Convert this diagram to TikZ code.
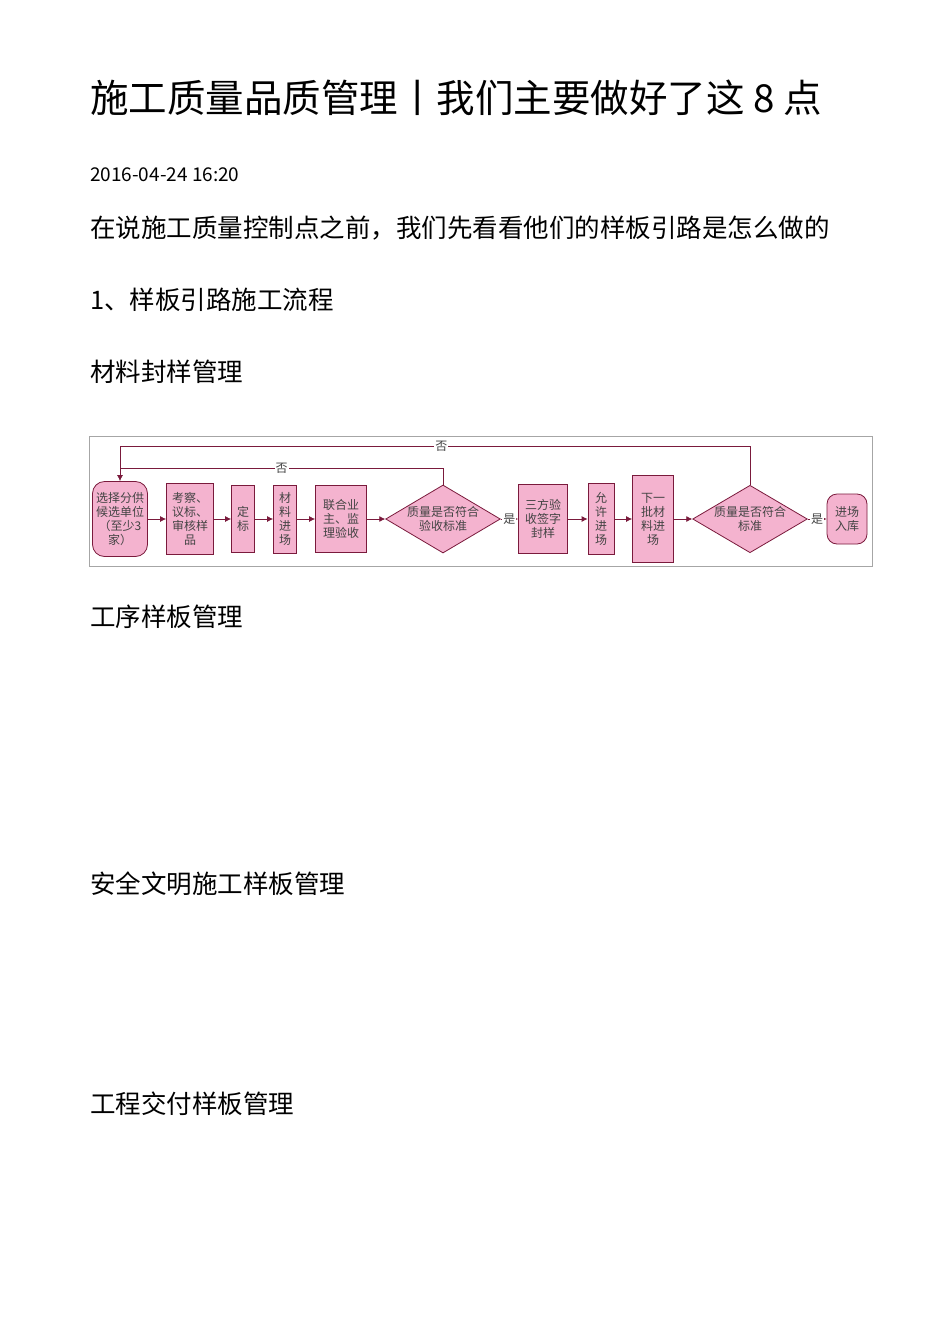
\documentclass[tikz,border=0pt]{standalone}
\usepackage{fontspec}
\setmainfont{Noto Sans CJK SC}
\usetikzlibrary{shapes.geometric,arrows.meta}
\definecolor{pk}{HTML}{F4B3CF}
\definecolor{bd}{HTML}{7A1A3C}
\definecolor{tx}{HTML}{444444}
\begin{document}
\begin{tikzpicture}[x=1pt,y=-1pt,
  hd/.style={anchor=west,inner sep=0pt,font=\fontsize{25.5}{25.5}\selectfont},
  bx/.style={draw=bd,fill=pk,line width=0.8pt,inner sep=1pt,text=tx,align=center,font=\fontsize{12}{14}\selectfont},
  dm/.style={diamond,draw=bd,fill=pk,line width=0.8pt,inner sep=0pt,text=tx,align=center,font=\fontsize{12}{14}\selectfont},
  ar/.style={draw=bd,line width=0.8pt,-{Latex[length=6pt,width=6pt]}},
  ln/.style={draw=bd,line width=0.8pt},
  lb/.style={fill=white,inner sep=1pt,text=tx,font=\fontsize{12}{12}\selectfont}]
\useasboundingbox (0,0) rectangle (950,1344);
\fill[white] (0,0) rectangle (950,1344);
\node[anchor=west,inner sep=0pt,font=\fontsize{38.5}{38.5}\selectfont] (title) at (90,98) {施工质量品质管理丨我们主要做好了这 8 点};
\node[anchor=west,inner sep=0pt,font=\fontsize{19}{19}\selectfont] (date) at (90,175) {2016-04-24 16:20};
\node[hd] (t1) at (90,228) {在说施工质量控制点之前，我们先看看他们的样板引路是怎么做的};
\node[hd] (t2) at (90,300) {1、样板引路施工流程};
\node[hd] (t3) at (90,372) {材料封样管理};
\node[hd] (t4) at (90,617) {工序样板管理};
\node[hd] (t5) at (90,884) {安全文明施工样板管理};
\node[hd] (t6) at (90,1104) {工程交付样板管理};
\draw[gray!70,line width=0.8pt] (89,436) rectangle (872,566);
\node[bx,rounded corners=12pt,minimum width=55pt,minimum height=75pt] (n1) at (120,519) {选择分供\\候选单位\\（至少3\\家）};
\node[bx,minimum width=47pt,minimum height=71pt] (n2) at (190,519) {考察、\\议标、\\审核样\\品};
\node[bx,minimum width=23pt,minimum height=67pt] (n3) at (243,519) {定\\标};
\node[bx,minimum width=23pt,minimum height=68pt] (n4) at (285,519) {材\\料\\进\\场};
\node[bx,minimum width=51pt,minimum height=67pt] (n5) at (341,519) {联合业\\主、监\\理验收};
\node[dm,minimum width=114pt,minimum height=68pt,aspect=1.7] (d1) at (443,519) {质量是否符合\\验收标准};
\node[bx,minimum width=49pt,minimum height=69pt] (n6) at (543,519) {三方验\\收签字\\封样};
\node[bx,minimum width=26pt,minimum height=71pt] (n7) at (601,519) {允\\许\\进\\场};
\node[bx,minimum width=41pt,minimum height=87pt] (n8) at (653,519) {下一\\批材\\料进\\场};
\node[dm,minimum width=114pt,minimum height=67pt,aspect=1.7] (d2) at (750,519) {质量是否符合\\标准};
\node[bx,rounded corners=10pt,minimum width=40pt,minimum height=50pt] (n9) at (847,519) {进场\\入库};
\draw[ar] (n1) -- (n2);
\draw[ar] (n2) -- (n3);
\draw[ar] (n3) -- (n4);
\draw[ar] (n4) -- (n5);
\draw[ar] (n5) -- (d1);
\draw[ar] (d1) -- node[lb]{是} (n6);
\draw[ar] (n6) -- (n7);
\draw[ar] (n7) -- (n8);
\draw[ar] (n8) -- (d2);
\draw[ar] (d2) -- node[lb]{是} (n9);
\coordinate (c1) at (443,468);
\coordinate (c2) at (120,468);
\coordinate (c3) at (750,446);
\coordinate (c4) at (120,446);
\draw[ln] (d1.north) -- (c1) -- node[lb,pos=0.5]{否} (c2);
\draw[ln] (d2.north) -- (c3) -- node[lb,pos=0.49]{否} (c4);
\draw[ar] (c4) -- (n1.north);
\end{tikzpicture}
\end{document}
